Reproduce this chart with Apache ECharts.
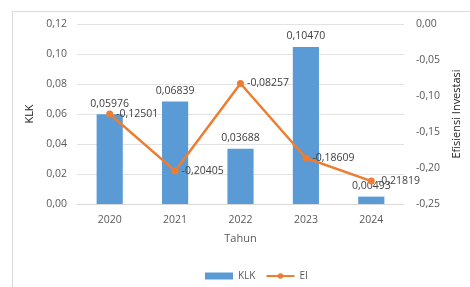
<!DOCTYPE html>
<html>
<head>
<meta charset="UTF-8">
<title>KLK dan EI</title>
<script src="https://cdn.jsdelivr.net/npm/echarts@6/dist/echarts.min.js"></script>
<style>
  html,body{margin:0;height:100%;background:#fff;}
  #chart{width:470px;height:287px;}
</style>
</head>
<body>
<div id="chart"></div>
<script>
const years = ['2020','2021','2022','2023','2024'];
const klk = [0.05976, 0.06839, 0.03688, 0.10470, 0.00493];
const ei  = [-0.12501, -0.20405, -0.08257, -0.18609, -0.21819];

const txt = '#595959';
const font = '"Open Sans", "Noto Sans", sans-serif';
const comma = (v, d) => v.toFixed(d).replace('.', ',');

const myChart = echarts.init(document.getElementById('chart'));
myChart.setOption({
  textStyle:{fontFamily:font, color:txt},
  graphic:[{
    type:'rect', left:10, top:9,
    shape:{width:470, height:290},
    style:{fill:'none', stroke:'#d9d9d9', lineWidth:1}
  }],
  legend:{
    top:266, left:200, itemGap:10,
    itemWidth:28, itemHeight:7,
    textStyle:{fontSize:10, color:txt, fontFamily:font},
    data:[{name:'KLK', icon:'rect'}, {name:'EI'}]
  },
  grid:{left:77, right:62, top:24, bottom:83},
  xAxis:{
    type:'category', data:years,
    name:'Tahun', nameLocation:'middle', nameGap:29,
    nameTextStyle:{fontSize:11, color:txt},
    axisTick:{show:false},
    axisLine:{lineStyle:{color:'#d9d9d9'}},
    axisLabel:{fontSize:10.5, color:txt, margin:11}
  },
  yAxis:[{
    type:'value', min:0, max:0.12, interval:0.02,
    name:'KLK', nameLocation:'middle', nameGap:42, nameRotate:90,
    nameTextStyle:{fontSize:11, color:'#222'},
    axisLabel:{fontSize:10.5, color:txt, margin:10, formatter:v=>comma(v,2)},
    splitLine:{lineStyle:{color:'#e3e3e3'}},
    axisLine:{show:false}, axisTick:{show:false}
  },{
    type:'value', min:-0.25, max:0, interval:0.05,
    name:'Efisiensi Investasi', nameLocation:'middle', nameGap:47, nameRotate:90,
    nameTextStyle:{fontSize:11, color:'#222'},
    axisLabel:{fontSize:10.5, color:txt, margin:12, formatter:v=>comma(v,2)},
    splitLine:{show:false},
    axisLine:{show:false}, axisTick:{show:false}
  }],
  series:[{
    name:'KLK', type:'bar', data:klk, barWidth:'40%',
    itemStyle:{color:'#5b9bd5'},
    label:{show:true, position:'top', fontSize:10.5, color:'#404040', formatter:p=>comma(p.value,5)}
  },{
    name:'EI', type:'line', yAxisIndex:1, data:ei,
    symbol:'circle', symbolSize:7,
    lineStyle:{color:'#ed7d31', width:2.5},
    itemStyle:{color:'#ed7d31'},
    label:{show:true, position:'right', distance:3, fontSize:10.5, color:'#404040', formatter:p=>comma(p.value,5)}
  }]
});
</script>
</body>
</html>
